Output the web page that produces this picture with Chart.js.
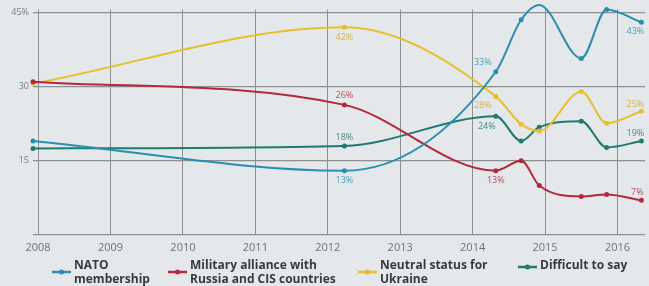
<!DOCTYPE html>
<html>
<head>
<meta charset="utf-8">
<script src="https://cdn.jsdelivr.net/npm/chart.js@4/dist/chart.umd.min.js"></script>
<style>
  html, body { margin: 0; padding: 0; background: #e4e8ea; }
  #wrap { width: 649px; height: 286px; position: relative; overflow: hidden; }
</style>
</head>
<body>
<div id="wrap"><canvas id="poll-chart" width="649" height="286"></canvas></div>
<script>
// survey dates (as fractional years) shared by every series
const surveyDates = [2007.93, 2012.23, 2014.32, 2014.67, 2014.92, 2015.5, 2015.85, 2016.33];
const yearTicks = [2008, 2009, 2010, 2011, 2012, 2013, 2014, 2015, 2016];
const valueTicks = [0, 15, 30, 45];

const seriesNames = [
    ['NATO', 'membership'],
    ['Military alliance with', 'Russia and CIS countries'],
    ['Neutral status for', 'Ukraine'],
    ['Difficult to say']
];
const natoValues = [19, 13, 33, 43.5, 46.5, 35.7, 45.6, 43];
const militaryValues = [31, 26.3, 13, 15, 10, 7.8, 8.2, 7];
const neutralValues = [30.6, 42, 28, 22.4, 21, 29, 22.6, 25];
const difficultValues = [17.5, 18, 24, 19, 21.8, 23, 17.7, 19];

// [series, point index, text]
const pointLabels = [
    [2, 1, '42%'], [1, 1, '26%'], [3, 1, '18%'], [0, 1, '13%'],
    [0, 2, '33%'], [2, 2, '28%'], [3, 2, '24%'], [1, 2, '13%'],
    [0, 7, '43%'], [2, 7, '25%'], [3, 7, '19%'], [1, 7, '7%']
];

const lineColors = ['#2a8db2', '#b3283a', '#e8be2c', '#1f7a70'];
const labelColors = ['#4a9ec0', '#b84a58', '#d9b43c', '#3f8a82'];
// where each label sits relative to its point
const labelOffsets = [
    [0, 10], [0, -9], [0, -9], [0, 10],
    [-13, -9], [-13, 9], [-9, 10], [0, 10],
    [-6, 9], [-6, -7], [-6, -8], [-4, -8]
];
const legendX = [52, 168, 358, 518];

function toPoints(values) {
    return values.map((v, i) => ({ x: surveyDates[i], y: v }));
}

const bgPlugin = {
    id: 'bg',
    beforeDraw(chart) {
        const c = chart.ctx;
        c.save();
        c.fillStyle = '#e4e8ea';
        c.fillRect(0, 0, chart.width, chart.height);
        c.restore();
    }
};

const labelPlugin = {
    id: 'pointText',
    afterDatasetsDraw(chart) {
        const c = chart.ctx;
        c.save();
        c.font = '9px "Open Sans"';
        c.textAlign = 'center';
        c.textBaseline = 'middle';
        pointLabels.forEach((l, k) => {
            const pt = chart.getDatasetMeta(l[0]).data[l[1]];
            c.fillStyle = labelColors[l[0]];
            c.fillText(l[2], pt.x + labelOffsets[k][0], pt.y + labelOffsets[k][1]);
        });
        c.restore();
    }
};

const legendPlugin = {
    id: 'twoLineLegend',
    afterDraw(chart) {
        const c = chart.ctx;
        c.save();
        chart.data.datasets.forEach((ds, i) => {
            const x = legendX[i];
            const lines = seriesNames[i];
            const midY = lines.length > 1 ? 272 : 267;
            c.strokeStyle = ds.borderColor;
            c.lineWidth = 2.5;
            c.beginPath();
            c.moveTo(x, midY);
            c.lineTo(x + 19, midY);
            c.stroke();
            c.fillStyle = ds.borderColor;
            c.beginPath();
            c.arc(x + 9.5, midY, 2.5, 0, Math.PI * 2);
            c.fill();
            c.fillStyle = '#3a3a3a';
            c.font = 'bold 12px "Open Sans"';
            c.textBaseline = 'middle';
            c.textAlign = 'left';
            lines.forEach((t, j) => c.fillText(t, x + 22, 266 + j * 14));
        });
        c.restore();
    }
};

const ctx = document.getElementById('poll-chart');
const chart = new Chart(ctx, {
    type: 'line',
    data: {
        datasets: [natoValues, militaryValues, neutralValues, difficultValues].map((vals, i) => ({
            label: seriesNames[i].join(' '),
            data: toPoints(vals),
            borderColor: lineColors[i],
            backgroundColor: lineColors[i],
            borderWidth: 2,
            pointRadius: 2.5,
            pointBorderWidth: 0,
            cubicInterpolationMode: 'monotone',
            clip: false
        }))
    },
    options: {
        responsive: false,
        animation: false,
        layout: { padding: { top: 0, right: 2, left: 0, bottom: 0 } },
        plugins: {
            legend: { display: false },
            tooltip: { enabled: false }
        },
        scales: {
            x: {
                type: 'linear',
                min: 2007.93,
                max: 2016.38,
                afterBuildTicks(axis) { axis.ticks = yearTicks.map(v => ({ value: v })); },
                afterFit(axis) { axis.height = 51; },
                border: { display: false },
                grid: { color: '#8d8f91', lineWidth: 1, drawTicks: false },
                ticks: {
                    padding: 6,
                    color: '#6f7375',
                    font: { family: 'Open Sans', size: 11 },
                    callback: v => String(v)
                }
            },
            y: {
                min: 0,
                max: 45.6,
                afterBuildTicks(axis) { axis.ticks = valueTicks.map(v => ({ value: v })); },
                afterFit(axis) { axis.width = 33; },
                border: { display: false },
                grid: { color: '#8d8f91', lineWidth: 1.3, drawTicks: false },
                ticks: {
                    padding: 4,
                    color: '#7a7e80',
                    font: { family: 'Open Sans', size: 9 },
                    callback: v => v === 0 ? '' : (v === 45 ? '45%' : String(v))
                }
            }
        }
    },
    plugins: [bgPlugin, labelPlugin, legendPlugin]
});
</script>
</body>
</html>
